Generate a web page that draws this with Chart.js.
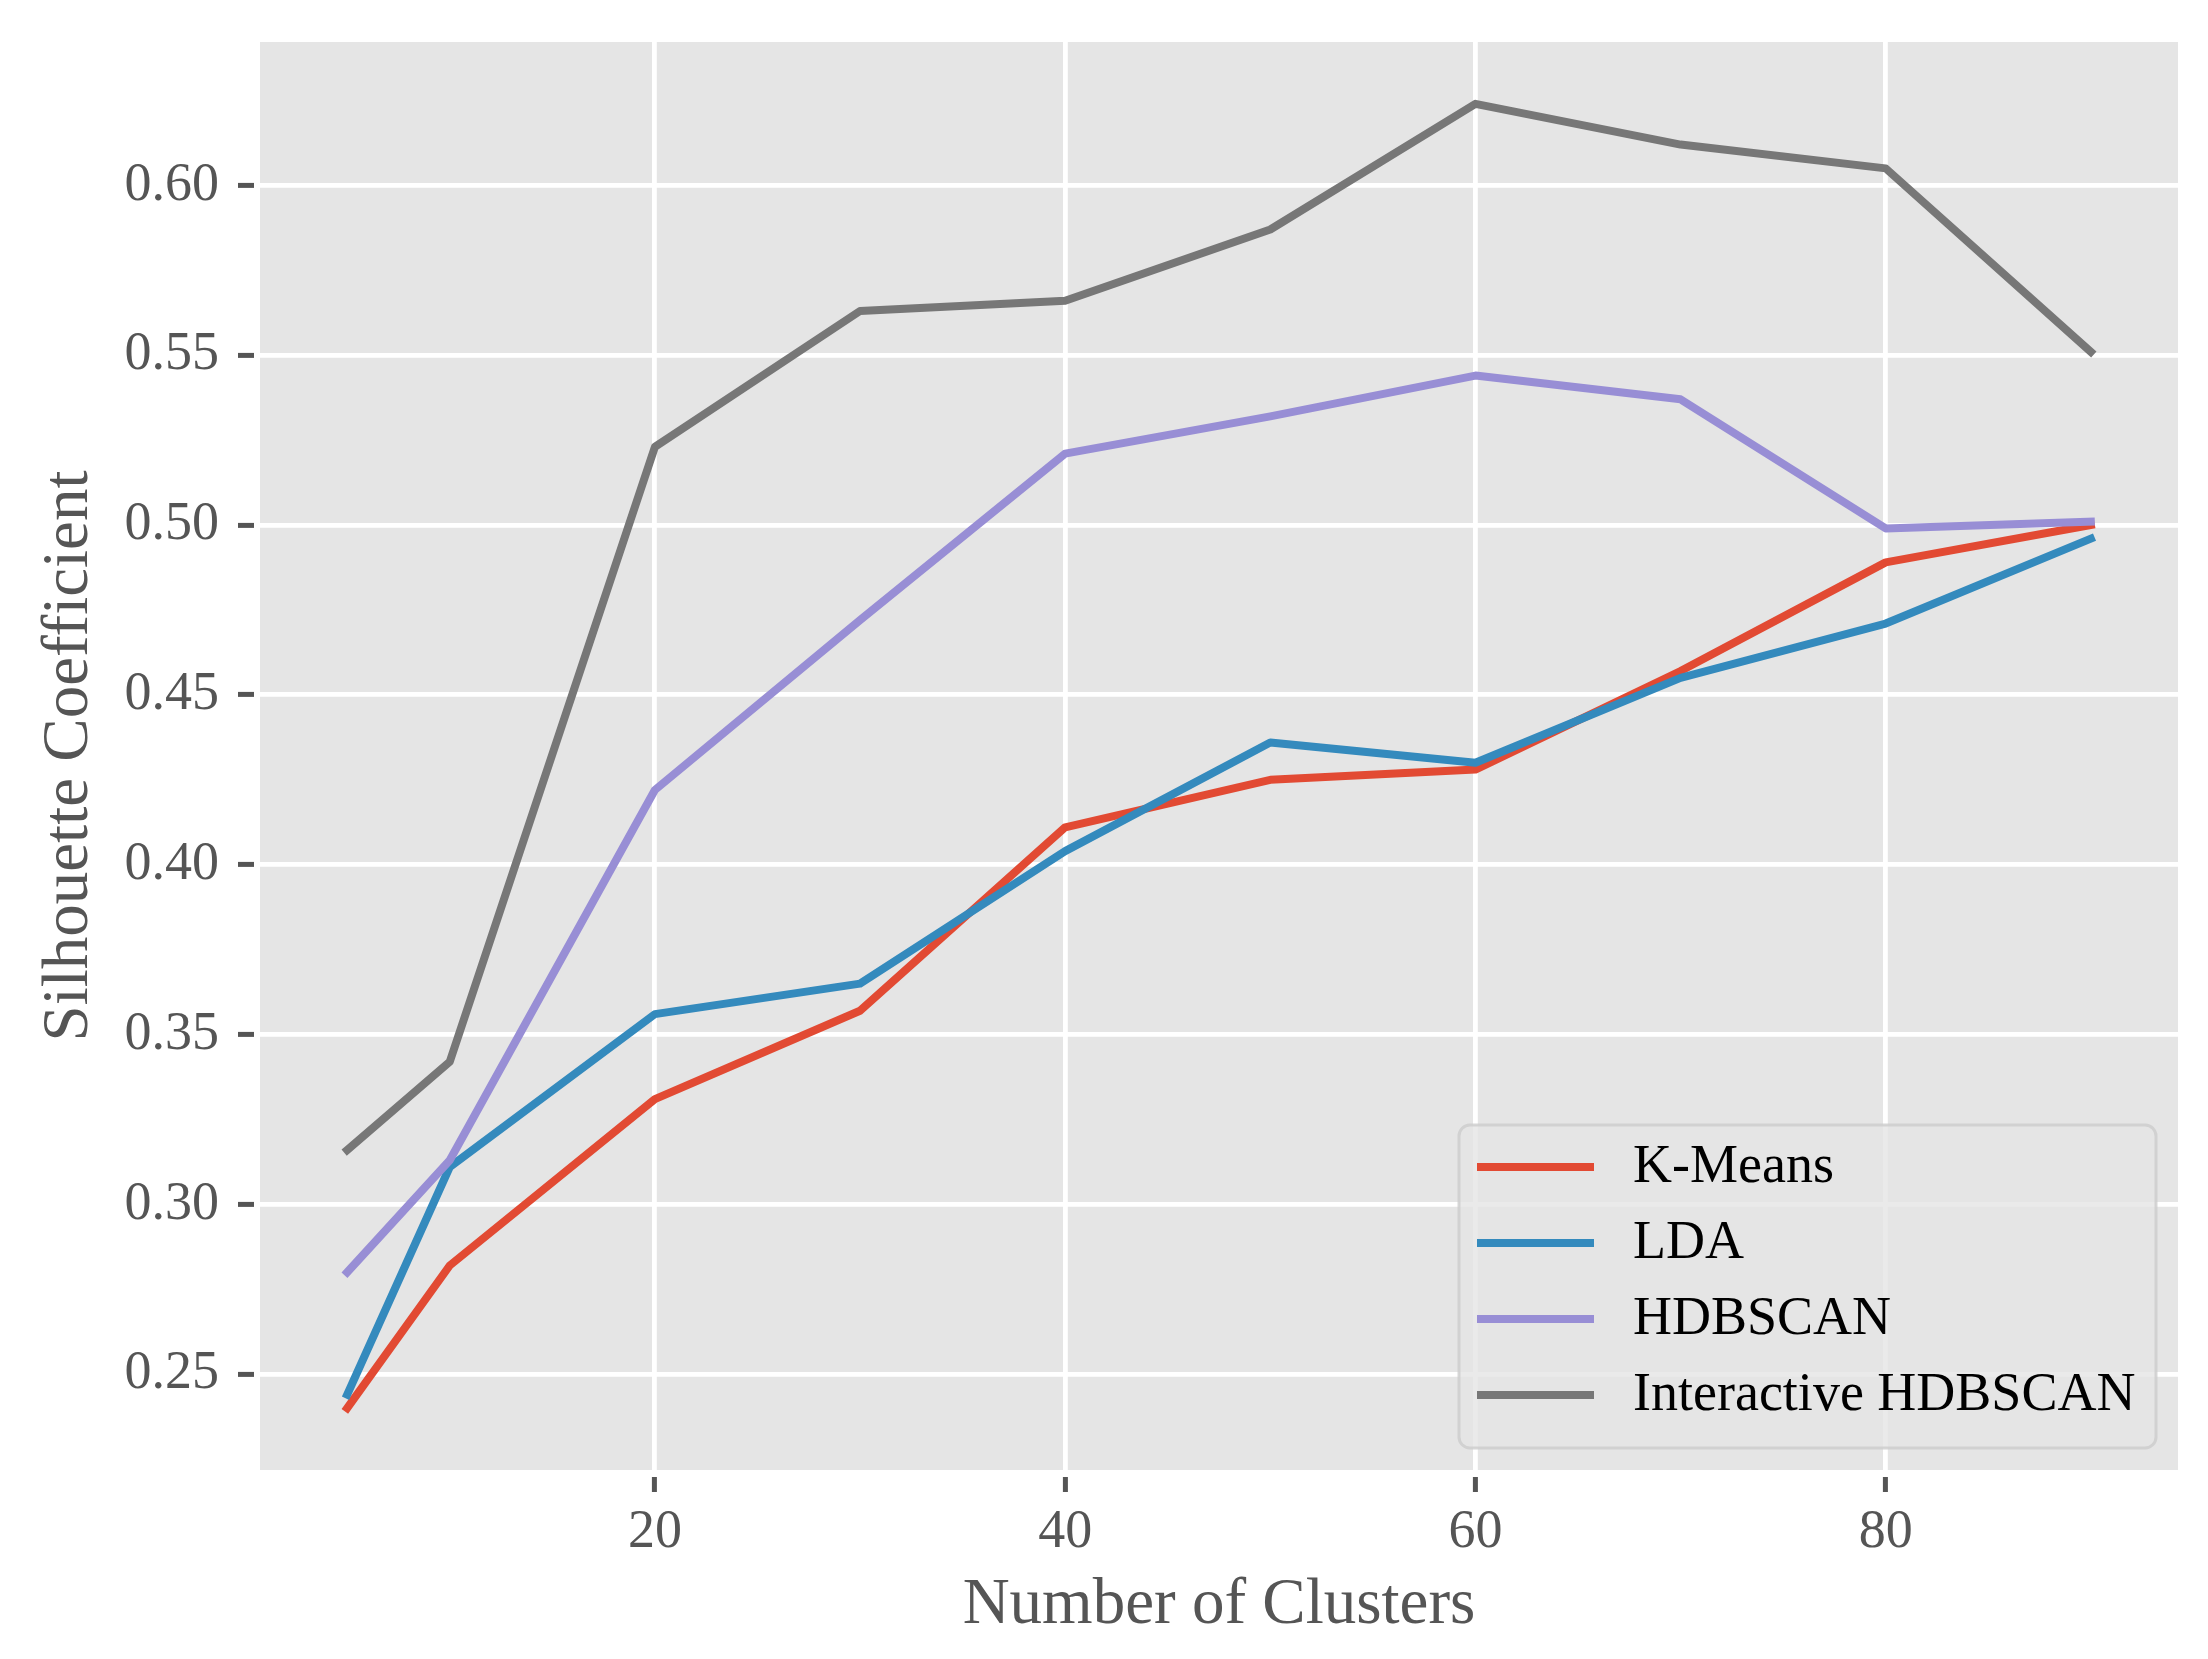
<!DOCTYPE html>
<html>
<head>
<meta charset="utf-8">
<script src="https://cdn.jsdelivr.net/npm/chart.js@4.4.1/dist/chart.umd.min.js"></script>
<style>
  html, body { margin: 0; padding: 0; background: #ffffff; }
  canvas { display: block; }
</style>
</head>
<body>
<canvas id="chart" width="2208" height="1659"></canvas>
<script>
// datos
const clusters = [5, 10, 20, 30, 40, 50, 60, 70, 80, 90];
const kMeans = [0.240, 0.282, 0.331, 0.357, 0.411, 0.425, 0.428, 0.457, 0.489, 0.500];
const lda = [0.244, 0.311, 0.356, 0.365, 0.404, 0.436, 0.430, 0.455, 0.471, 0.496];
const hdbscan = [0.280, 0.313, 0.422, 0.472, 0.521, 0.532, 0.544, 0.537, 0.499, 0.501];
const interactiveHdbscan = [0.316, 0.342, 0.523, 0.563, 0.566, 0.587, 0.624, 0.612, 0.605, 0.551];

const seriesNames = ['K-Means', 'LDA', 'HDBSCAN', 'Interactive HDBSCAN'];
const seriesColors = ['#E24A33', '#348ABD', '#988ED5', '#777777'];

const xTicks = [20, 40, 60, 80];
const yTicks = [0.25, 0.30, 0.35, 0.40, 0.45, 0.50, 0.55, 0.60];
const xLimits = [0.75, 94.25];
const yLimits = [0.2218, 0.6422];

const FONT = "'Liberation Serif', 'Times New Roman', serif";

const toPoints = arr => clusters.map((c, i) => ({ x: c, y: arr[i] }));
const allSeries = [kMeans, lda, hdbscan, interactiveHdbscan];

// fondo gris del área de trazado (estilo ggplot)
const plotBackground = {
  id: 'plotBackground',
  beforeDraw(chart) {
    const { ctx, chartArea: a } = chart;
    ctx.save();
    ctx.fillStyle = '#E5E5E5';
    ctx.fillRect(a.left, a.top, a.right - a.left, a.bottom - a.top);
    ctx.restore();
  }
};

// separa las marcas de los ejes del borde, como en matplotlib
const tickGap = {
  id: 'tickGap',
  afterDraw(chart) {
    const { ctx, chartArea: a } = chart;
    ctx.save();
    ctx.fillStyle = '#ffffff';
    ctx.fillRect(a.left - 6, a.top - 10, 6, a.bottom - a.top + 20);
    ctx.fillRect(a.left - 10, a.bottom, a.right - a.left + 20, 7);
    ctx.restore();
  }
};

// leyenda dentro del gráfico, abajo a la derecha
const innerLegend = {
  id: 'innerLegend',
  afterDatasetsDraw(chart) {
    const { ctx, chartArea: a } = chart;
    const w = 697, h = 323;
    const x = a.right - 22 - w, y = a.bottom - 22 - h;
    ctx.save();
    ctx.beginPath();
    ctx.roundRect(x, y, w, h, 11);
    ctx.fillStyle = 'rgba(229,229,229,0.8)';
    ctx.fill();
    ctx.lineWidth = 3;
    ctx.strokeStyle = 'rgba(204,204,204,0.8)';
    ctx.stroke();
    ctx.font = '54px ' + FONT;
    ctx.textBaseline = 'middle';
    ctx.textAlign = 'left';
    chart.data.datasets.forEach((ds, i) => {
      const cy = y + 42 + i * 76;
      ctx.strokeStyle = ds.borderColor;
      ctx.lineWidth = 8;
      ctx.lineCap = 'butt';
      ctx.beginPath();
      ctx.moveTo(x + 18, cy);
      ctx.lineTo(x + 135, cy);
      ctx.stroke();
      ctx.fillStyle = '#000000';
      ctx.fillText(ds.label, x + 174, cy + 1);
    });
    ctx.restore();
  }
};

new Chart(document.getElementById('chart'), {
  type: 'line',
  data: {
    datasets: seriesNames.map((name, i) => ({
      label: name,
      data: toPoints(allSeries[i]),
      borderColor: seriesColors[i],
      backgroundColor: seriesColors[i],
      borderWidth: 8,
      borderCapStyle: 'square',
      borderJoinStyle: 'round',
      pointRadius: 0,
      tension: 0,
      fill: false,
      order: seriesNames.length - i
    }))
  },
  options: {
    responsive: false,
    animation: false,
    devicePixelRatio: 1,
    layout: { padding: { top: 42, right: 30, left: 0, bottom: 0 } },
    plugins: { legend: { display: false }, tooltip: { enabled: false } },
    scales: {
      x: {
        type: 'linear',
        min: xLimits[0],
        max: xLimits[1],
        afterBuildTicks: s => { s.ticks = xTicks.map(v => ({ value: v })); },
        afterFit: s => { s.height = 189; s.paddingLeft = 0; s.paddingRight = 0; },
        grid: { color: '#ffffff', lineWidth: 4.8, drawTicks: true, tickLength: 22, tickColor: '#555555', tickWidth: 5 },
        border: { display: false },
        ticks: { color: '#555555', font: { family: FONT, size: 54 }, padding: 8, maxRotation: 0, callback: v => String(v) },
        title: { display: true, text: 'Number of Clusters', color: '#555555', font: { family: FONT, size: 65, lineHeight: 1.2 }, padding: { top: 0, bottom: 14 } }
      },
      y: {
        type: 'linear',
        min: yLimits[0],
        max: yLimits[1],
        afterBuildTicks: s => { s.ticks = yTicks.map(v => ({ value: v })); },
        afterFit: s => { s.width = 260; s.paddingTop = 0; s.paddingBottom = 0; },
        grid: { color: '#ffffff', lineWidth: 4.8, drawTicks: true, tickLength: 22, tickColor: '#555555', tickWidth: 5 },
        border: { display: false },
        ticks: { color: '#555555', font: { family: FONT, size: 54 }, padding: 19, callback: v => v.toFixed(2) },
        title: { display: true, text: 'Silhouette Coefficient', color: '#555555', font: { family: FONT, size: 65, lineHeight: 1.2 }, padding: { top: 31, bottom: 0 } }
      }
    }
  },
  plugins: [plotBackground, innerLegend, tickGap]
});
</script>
</body>
</html>
